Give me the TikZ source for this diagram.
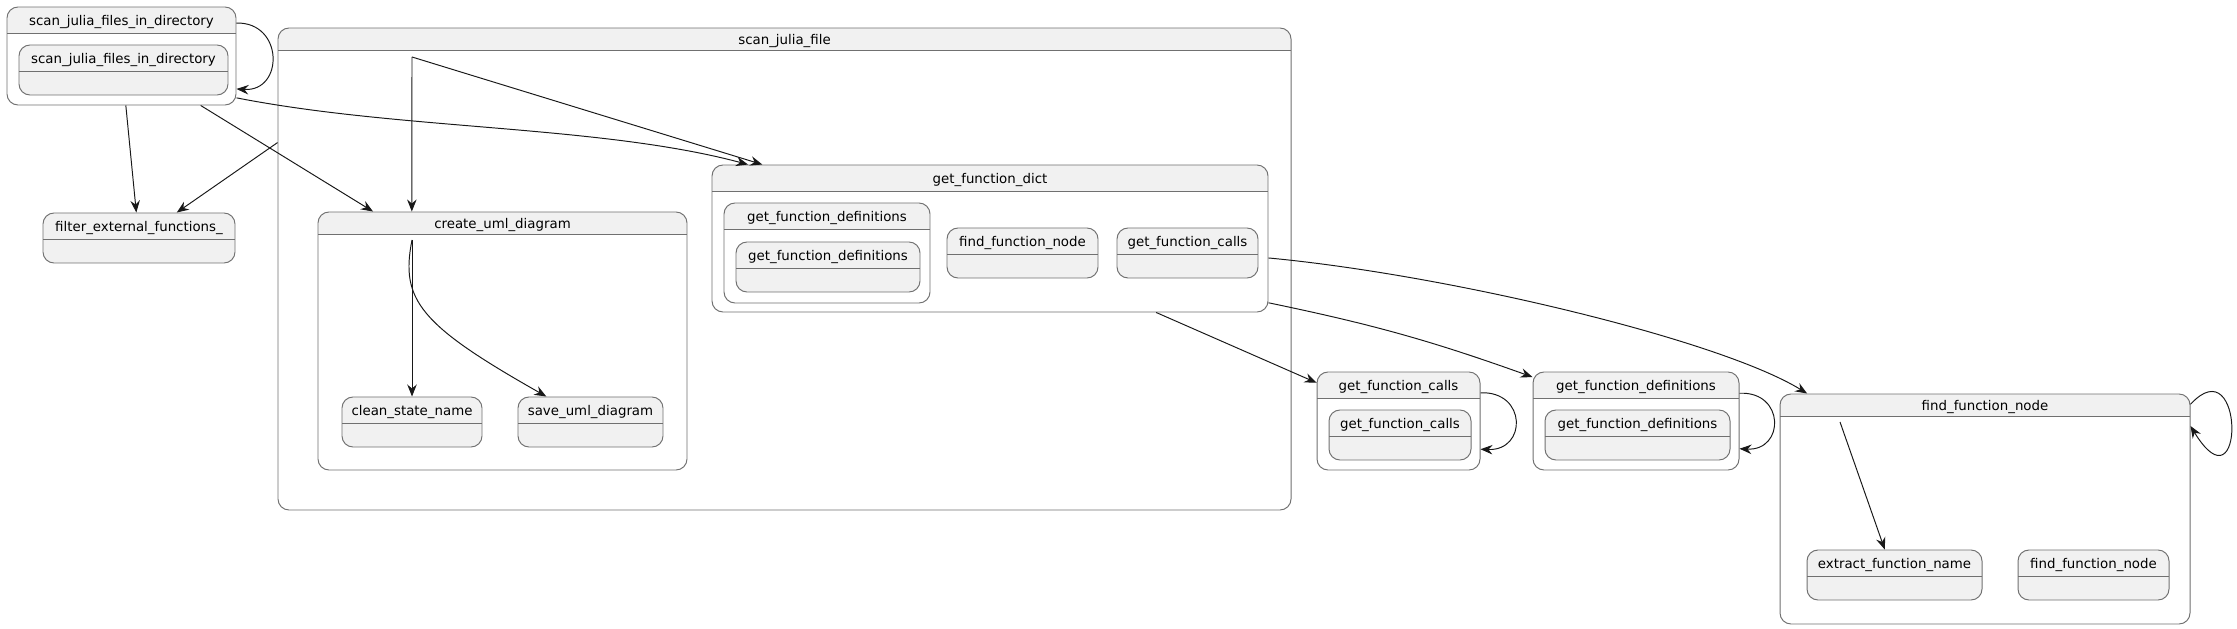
\documentclass[tikz,border=0pt]{standalone}
\usepackage{fontspec}
\setmainfont{DejaVu Sans}
\usepackage{xcolor}
\usetikzlibrary{arrows.meta}

\definecolor{boxfill}{HTML}{F1F1F1}
\definecolor{boxline}{HTML}{707070}
\definecolor{arrowcol}{HTML}{181818}

\begin{document}
\begin{tikzpicture}[x=0.2mm, y=-0.2mm,
    font=\fontsize{7.6}{9}\selectfont,
    hdr/.store in=\hdrh, hdr=26,
    sz/.style 2 args={minimum width=#1*0.2mm, minimum height=#2*0.2mm},
    statebox/.style={draw=boxline, line width=0.55pt, rounded corners=2.2mm, inner sep=0pt,
        path picture={
            \fill[boxfill, sharp corners] (path picture bounding box.north west) rectangle ([yshift=-\hdrh*0.2mm]path picture bounding box.north east);
            \draw[boxline, sharp corners, line width=0.55pt] ([yshift=-\hdrh*0.2mm]path picture bounding box.north west) -- ([yshift=-\hdrh*0.2mm]path picture bounding box.north east);
        }},
    leaf/.style={statebox, fill=boxfill},
    comp/.style={statebox, fill=white},
    ttl/.style={anchor=base, inner sep=0pt, yshift=-#1*0.2mm},
    ttl/.default=19,
    trans/.style={-{Stealth[length=2.4mm, width=1.9mm, inset=0.8mm]}, draw=arrowcol, line width=0.55pt},
]
    \useasboundingbox (0,0) rectangle (2237,629);

    % scan_julia_files_in_directory
    \node[comp, sz={229}{98}, label={[ttl]north:scan\_julia\_files\_in\_directory}] (dirOuter) at (121.5,56) {};
    \node[leaf, sz={209}{50}, label={[ttl]north:scan\_julia\_files\_in\_directory}] (dirInner) at (123.5,70) {};
    \node[leaf, sz={192}{50}, label={[ttl]north:filter\_external\_functions\_}] (filter) at (139,238) {};

    % scan_julia_file
    \node[comp, hdr=22, sz={1013}{482}, label={[ttl=17]north:scan\_julia\_file}] (sjf) at (784.5,269) {};
    \coordinate (sjfInit) at (412,57);

    \node[comp, hdr=22, sz={369}{258}, label={[ttl=17]north:create\_uml\_diagram}] (uml) at (502.5,341) {};
    \coordinate (umlInit) at (412,240);
    \node[leaf, sz={140}{50}, label={[ttl]north:clean\_state\_name}] (clean) at (412,422) {};
    \node[leaf, sz={145}{50}, label={[ttl]north:save\_uml\_diagram}] (save) at (590.5,422) {};

    \node[comp, sz={556}{147}, label={[ttl]north:get\_function\_dict}] (dict) at (990,238.5) {};
    \node[comp, sz={206}{100}, label={[ttl]north:get\_function\_definitions}] (dictDefs) at (827,253) {};
    \node[leaf, sz={184}{50}, label={[ttl]north:get\_function\_definitions}] (dictDefsIn) at (828,267) {};
    \node[leaf, sz={151}{50}, label={[ttl]north:find\_function\_node}] (dictFind) at (1022.5,253) {};
    \node[leaf, sz={141}{50}, label={[ttl]north:get\_function\_calls}] (dictCalls) at (1187.5,253) {};

    % right hand states
    \node[comp, sz={163}{98}, label={[ttl]north:get\_function\_calls}] (calls) at (1398.5,421) {};
    \node[leaf, sz={142}{50}, label={[ttl]north:get\_function\_calls}] (callsIn) at (1400,435) {};
    \node[comp, sz={206}{98}, label={[ttl]north:get\_function\_definitions}] (defs) at (1636,421) {};
    \node[leaf, sz={185}{50}, label={[ttl]north:get\_function\_definitions}] (defsIn) at (1637.5,435) {};

    \node[comp, hdr=22, sz={410}{230}, label={[ttl=17]north:find\_function\_node}] (find) at (1985,509) {};
    \coordinate (findInit) at (1840,422);
    \node[leaf, sz={175}{50}, label={[ttl]north:extract\_function\_name}] (extract) at (1894.5,575) {};
    \node[leaf, sz={151}{50}, label={[ttl]north:find\_function\_node}] (findIn) at (2093.5,575) {};

    % transitions
    \draw[trans] (dirOuter.16) .. controls (284,22) and (284,92) .. (dirOuter.-16);
    \draw[trans] (dirOuter.-85) -- (filter.96);
    \draw[trans] (dirOuter.-32) -- (uml.135);
    \draw[trans] (dirOuter.-20) .. controls (400,130) and (600,125) .. (dict.163);
    \draw[trans] (sjf.166) -- (filter.34);
    \draw[trans] (sjfInit) -- (uml.125);
    \draw[trans] (sjfInit) -- (dict.162);
    \draw[trans] (umlInit) -- (clean.north);
    \draw[trans] (umlInit) .. controls (400,300) and (420,325) .. (save.150);
    \draw[trans] (dict.-24) -- (calls.155);
    \draw[trans] (dict.-13) to[bend left=4] (defs.157);
    \draw[trans] (dict.-4) .. controls (1450,275) and (1720,340) .. (find.147);
    \draw[trans] (calls.19) .. controls (1527,391) and (1527,451) .. (calls.-19);
    \draw[trans] (defs.15) .. controls (1785,391) and (1785,451) .. (defs.-15);
    \draw[trans] (find.27) .. controls (2245,345) and (2245,515) .. (find.22);
    \draw[trans] (findInit) -- (extract.111);
\end{tikzpicture}
\end{document}
